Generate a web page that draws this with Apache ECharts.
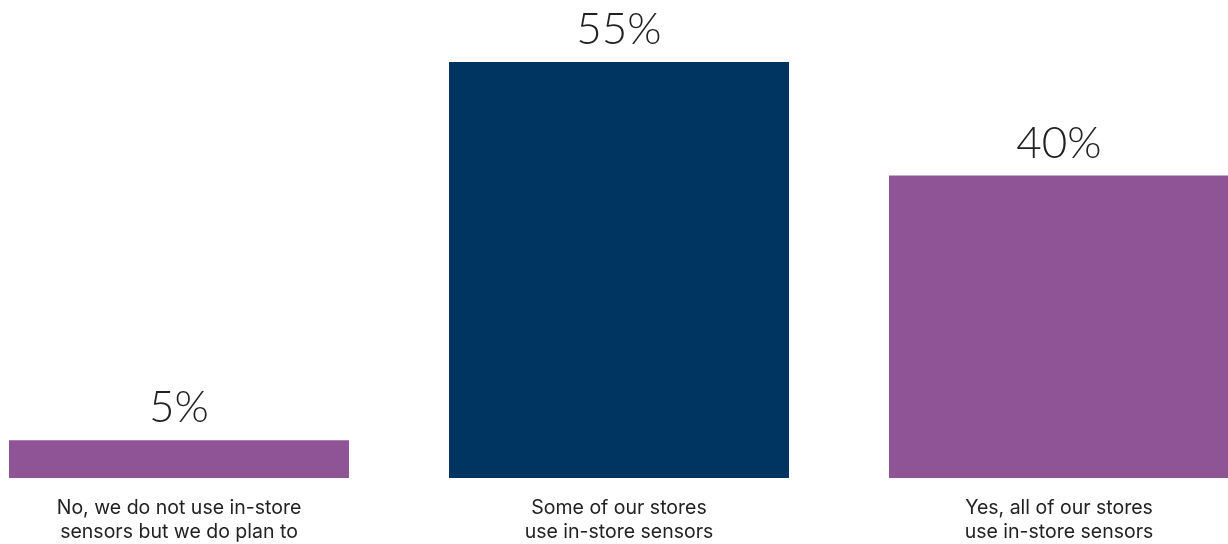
<!DOCTYPE html>
<html>
<head>
<meta charset="utf-8">
<script src="https://cdn.jsdelivr.net/npm/echarts@6/dist/echarts.min.js"></script>
<style>
  html, body { margin: 0; padding: 0; background: #ffffff; }
  #chart { width: 1228px; height: 544px; }
</style>
</head>
<body>
<div id="chart"></div>
<script>
// Survey responses: use of in-store sensors
const categories = [
  'No, we do not use in-store\nsensors but we do plan to',
  'Some of our stores\nuse in-store sensors',
  'Yes, all of our stores\nuse in-store sensors'
];
const shares = [5, 55, 40];
const barColors = ['#8f5495', '#003461', '#8f5495'];

const chart = echarts.init(document.getElementById('chart'));
chart.setOption({
  backgroundColor: '#ffffff',
  animation: false,
  grid: { left: 179, right: 169, top: 62, bottom: 66, containLabel: false },
  xAxis: {
    type: 'category',
    data: categories,
    boundaryGap: false,
    axisLine: { show: false },
    axisTick: { show: false },
    splitLine: { show: false },
    axisLabel: {
      interval: 0,
      margin: 18,
      color: '#222222',
      fontFamily: 'Inter',
      fontSize: 19.5,
      lineHeight: 24,
      align: 'center'
    }
  },
  yAxis: {
    type: 'value',
    min: 0,
    max: 55,
    show: false
  },
  series: [{
    type: 'bar',
    barWidth: 340,
    data: shares.map((v, i) => ({ value: v, itemStyle: { color: barColors[i] } })),
    label: {
      show: true,
      position: 'top',
      distance: 10,
      formatter: '{c}%',
      color: '#222222',
      fontFamily: 'Lato',
      fontWeight: 300,
      fontSize: 44
    }
  }]
});
</script>
</body>
</html>
